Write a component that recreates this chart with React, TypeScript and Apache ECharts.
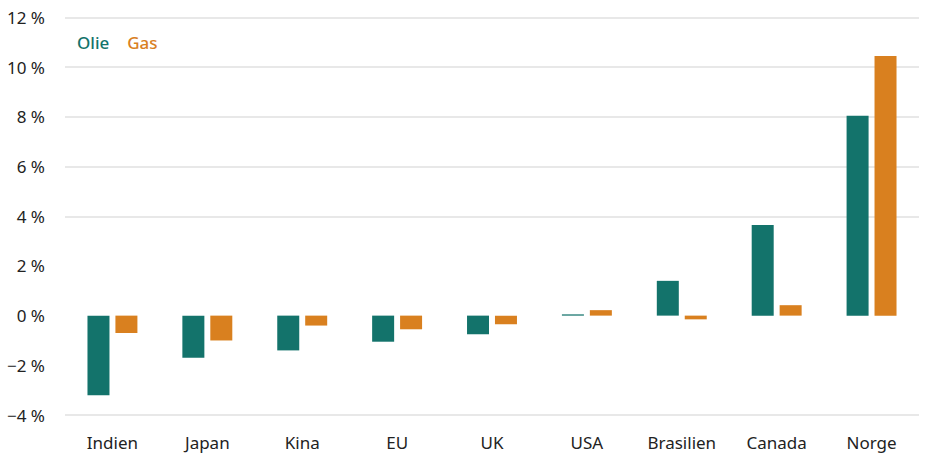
import React, { useEffect, useRef } from "react";
import * as echarts from "echarts";

const categories = ["Indien", "Japan", "Kina", "EU", "UK", "USA", "Brasilien", "Canada", "Norge"];
const olie = [-3.2, -1.7, -1.4, -1.05, -0.75, 0.05, 1.4, 3.65, 8.05];
const gas = [-0.7, -1.0, -0.4, -0.55, -0.35, 0.22, -0.15, 0.42, 10.45];

const TEAL = "#13736b";
const ORANGE = "#d9801f";
const FONT = "Noto Sans";

export default function App() {
  const ref = useRef<HTMLDivElement>(null);
  useEffect(() => {
    if (!ref.current) return;
    const chart = echarts.init(ref.current, null, { renderer: "svg" });
    chart.setOption({
      animation: false,
      grid: { left: 65, right: 9, top: 17.5, bottom: 47 },
      legend: {
        left: 67,
        top: 29,
        itemWidth: 0,
        itemHeight: 0,
        itemGap: 13,
        icon: "rect",
        textStyle: { fontFamily: FONT, fontSize: 17, fontWeight: 500 },
        data: [
          { name: "Olie", textStyle: { color: TEAL } },
          { name: "Gas", textStyle: { color: ORANGE } },
        ],
      },
      xAxis: {
        type: "category",
        data: categories,
        axisLine: { show: false },
        axisTick: { show: false },
        axisLabel: { margin: 19, color: "#222", fontFamily: FONT, fontSize: 17 },
      },
      yAxis: {
        type: "value",
        min: -4,
        max: 12,
        interval: 2,
        axisLabel: {
          margin: 20,
          color: "#222",
          fontFamily: FONT,
          fontSize: 17,
          formatter: (v: number) => `${v}`.replace("-", "\u2212") + " %",
        },
        splitLine: {
          lineStyle: {
            width: 1.5,
            color: ["#e0e0e0", "rgba(0,0,0,0)", "rgba(0,0,0,0)", "rgba(0,0,0,0)", "#e0e0e0", "#e0e0e0", "#e0e0e0", "#e0e0e0", "#e0e0e0"],
          },
        },
      },
      series: [
        { name: "Olie", type: "bar", data: olie, barWidth: 22, barGap: "27%", itemStyle: { color: TEAL } },
        { name: "Gas", type: "bar", data: gas, barWidth: 22, itemStyle: { color: ORANGE } },
      ],
    });
    return () => chart.dispose();
  }, []);
  return <div ref={ref} style={{ width: 928, height: 462, position: "absolute", left: 0, top: 0 }} />;
}
